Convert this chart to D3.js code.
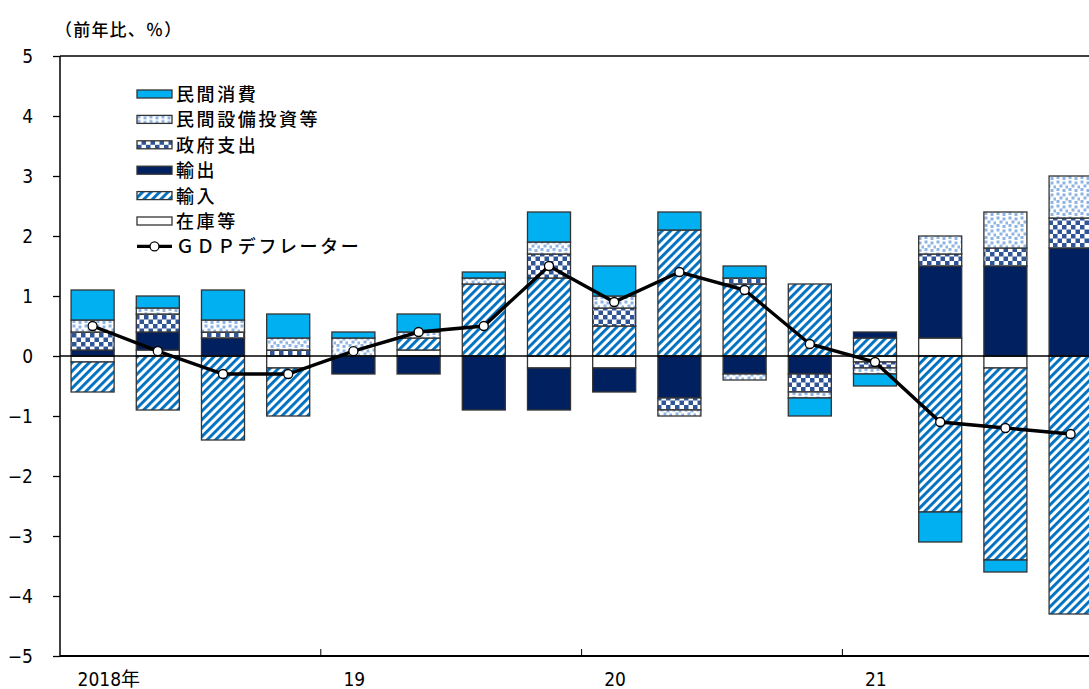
<!DOCTYPE html>
<html>
<head>
<meta charset="utf-8">
<script src="https://cdn.jsdelivr.net/npm/d3@7"></script>
<style>
  body { margin: 0; background: #fff; }
  text { font-family: "Noto Sans CJK JP", sans-serif; fill: #000; }
  .num { font-family: "DejaVu Sans Condensed", "DejaVu Sans", "Noto Sans CJK JP", sans-serif; font-stretch: condensed; }
</style>
</head>
<body>
<div id="chart"></div>
<script>
// quarters 2018Q1 - 2021Q4
const quarters = ['18Q1', '18Q2', '18Q3', '18Q4', '19Q1', '19Q2', '19Q3', '19Q4',
                  '20Q1', '20Q2', '20Q3', '20Q4', '21Q1', '21Q2', '21Q3', '21Q4']
const yearLabels = ['2018年', '19', '20', '21']

// contributions (前年比寄与度、%)
const consumption = [0.5, 0.2, 0.5, 0.4, 0.1, 0.3, 0.1, 0.5, 0.5, 0.3, 0.2, -0.3, -0.2, -0.5, -0.2, 0]
const investment  = [0.2, 0.1, 0.2, 0.2, 0.3, 0.1, 0.1, 0.2, 0.2, -0.1, -0.1, -0.1, -0.1, 0.3, 0.6, 0.7]
const government  = [0.3, 0.3, 0.1, 0.1, 0, 0, 0, 0.4, 0.3, -0.2, 0.1, -0.3, -0.1, 0.2, 0.3, 0.5]
const exports     = [0.1, 0.3, 0.3, 0, -0.3, -0.3, -0.9, -0.7, -0.4, -0.7, -0.3, -0.3, 0.1, 1.2, 1.5, 1.8]
const imports     = [-0.5, -0.9, -1.4, -0.8, 0, 0.2, 1.2, 1.3, 0.5, 2.1, 1.2, 1.2, 0.3, -2.6, -3.2, -4.3]
const inventory   = [-0.1, 0.1, 0, -0.2, 0, 0.1, 0, -0.2, -0.2, 0, 0, 0, -0.1, 0.3, -0.2, 0]
const deflator    = [0.5, 0.08, -0.3, -0.3, 0.08, 0.4, 0.5, 1.5, 0.9, 1.4, 1.1, 0.2, -0.1, -1.1, -1.2, -1.3]

const yTicks = [5, 4, 3, 2, 1, 0, -1, -2, -3, -4, -5]

const series = [
  { key: 'inventory', name: '在庫等', values: inventory, fill: '#ffffff' },
  { key: 'imports', name: '輸入', values: imports, fill: 'url(#pat-stripe)' },
  { key: 'exports', name: '輸出', values: exports, fill: '#002060' },
  { key: 'government', name: '政府支出', values: government, fill: 'url(#pat-check)' },
  { key: 'investment', name: '民間設備投資等', values: investment, fill: 'url(#pat-dots)' },
  { key: 'consumption', name: '民間消費', values: consumption, fill: '#00B0F0' }
]

const width = 1089, height = 689
const margin = { top: 56, left: 60 }
const plotW = 16 * 65.2, plotH = 600

const svg = d3.select('#chart').append('svg')
  .attr('width', width)
  .attr('height', height)

const defs = svg.append('defs')

const stripe = defs.append('pattern').attr('id', 'pat-stripe')
  .attr('patternUnits', 'userSpaceOnUse')
  .attr('width', 6).attr('height', 6)
  .attr('patternTransform', 'rotate(45)')
stripe.append('rect').attr('width', 6).attr('height', 6).attr('fill', '#fff')
stripe.append('rect').attr('width', 2.9).attr('height', 6).attr('fill', '#0070C0')

const check = defs.append('pattern').attr('id', 'pat-check')
  .attr('patternUnits', 'userSpaceOnUse')
  .attr('width', 9).attr('height', 9)
check.append('rect').attr('width', 9).attr('height', 9).attr('fill', '#fff')
check.append('rect').attr('width', 4.5).attr('height', 4.5).attr('fill', '#2F5597')
check.append('rect').attr('x', 4.5).attr('y', 4.5).attr('width', 4.5).attr('height', 4.5).attr('fill', '#2F5597')

const dots = defs.append('pattern').attr('id', 'pat-dots')
  .attr('patternUnits', 'userSpaceOnUse')
  .attr('width', 12).attr('height', 12)
dots.append('rect').attr('width', 12).attr('height', 12).attr('fill', '#fff')
;[[0.5, 0.5], [6.5, 1.5], [3.5, 4.5], [9.5, 5.5], [0.5, 8], [6.5, 9]].forEach(p => {
  dots.append('rect').attr('x', p[0]).attr('y', p[1]).attr('width', 3).attr('height', 3).attr('fill', '#8DB4E2')
})

const xScale = d3.scaleBand()
  .domain(quarters)
  .range([margin.left, margin.left + plotW])
  .paddingInner(0.34)
  .paddingOuter(0.17)

const yScale = d3.scaleLinear()
  .domain([-5, 5])
  .range([margin.top + plotH, margin.top])

// table for d3.stack
const table = quarters.map((q, i) => {
  const row = { q: q }
  series.forEach(s => { row[s.key] = s.values[i] })
  return row
})

const stacked = d3.stack()
  .keys(series.map(s => s.key))
  .offset(d3.stackOffsetDiverging)(table)

const bars = svg.append('g').classed('bars', true)
stacked.forEach((layer, li) => {
  bars.append('g')
    .selectAll('rect')
    .data(layer.filter(d => d[1] - d[0] !== 0)).enter()
    .append('rect')
    .attr('x', d => xScale(d.data.q))
    .attr('width', xScale.bandwidth())
    .attr('y', d => yScale(Math.max(d[0], d[1])))
    .attr('height', d => Math.abs(yScale(d[0]) - yScale(d[1])))
    .attr('fill', series[li].fill)
    .attr('stroke', '#333')
    .attr('stroke-width', 1.3)
})

// frame and axes
const x0 = margin.left, x1 = margin.left + plotW
svg.append('line').attr('x1', x0).attr('x2', x1)
  .attr('y1', yScale(0)).attr('y2', yScale(0))
  .attr('stroke', '#000').attr('stroke-width', 1.3)

const vAxis = d3.axisLeft(yScale)
  .tickValues(yTicks)
  .tickSize(7)
  .tickFormat(d => d < 0 ? '−' + Math.abs(d) : d)
const gy = svg.append('g').classed('v-axis', true)
  .attr('transform', 'translate(' + x0 + ', 0)')
  .call(vAxis)
gy.select('.domain').remove()
gy.selectAll('line').attr('stroke', '#000').attr('stroke-width', 1.3)
gy.selectAll('text')
  .attr('class', 'num')
  .attr('x', -27)
  .attr('dy', '0.36em')
  .attr('font-size', 19)
  .attr('fill', '#000')

svg.append('line').attr('x1', x0).attr('x2', x0)
  .attr('y1', yScale(5)).attr('y2', yScale(-5))
  .attr('stroke', '#000').attr('stroke-width', 1.5)
svg.append('line').attr('x1', x0).attr('x2', x1)
  .attr('y1', yScale(5)).attr('y2', yScale(5))
  .attr('stroke', '#000').attr('stroke-width', 1.3)
svg.append('line').attr('x1', x0).attr('x2', x1)
  .attr('y1', yScale(-5)).attr('y2', yScale(-5))
  .attr('stroke', '#000').attr('stroke-width', 2)

// year ticks and labels
const step = xScale.step()
yearLabels.forEach((label, i) => {
  const q1 = quarters[i * 4]
  const start = xScale(q1) - xScale.paddingInner() * step / 2
  if (i > 0) {
    svg.append('line').attr('x1', start).attr('x2', start)
      .attr('y1', yScale(-5)).attr('y2', yScale(-5) - 7)
      .attr('stroke', '#000').attr('stroke-width', 1)
  }
  svg.append('text').attr('class', 'num')
    .attr('x', xScale(q1) + xScale.bandwidth() / 2 - (i === 0 ? 15 : 10))
    .attr('y', 686)
    .attr('font-size', 19)
    .text(label)
})

// GDP deflator line
const cx = (q) => xScale(q) + xScale.bandwidth() / 2
const line = d3.line()
  .x((d, i) => cx(quarters[i]))
  .y(d => yScale(d))
svg.append('path')
  .datum(deflator)
  .attr('d', line)
  .attr('fill', 'none')
  .attr('stroke', '#000')
  .attr('stroke-width', 3.4)
svg.append('g').selectAll('circle')
  .data(deflator).enter()
  .append('circle')
  .attr('cx', (d, i) => cx(quarters[i]))
  .attr('cy', d => yScale(d))
  .attr('r', 4.5)
  .attr('fill', '#fff')
  .attr('stroke', '#000')
  .attr('stroke-width', 1.3)

// title
svg.append('text')
  .attr('x', 55).attr('y', 36)
  .attr('font-size', 17)
  .attr('font-weight', 500)
  .attr('letter-spacing', 1.2)
  .text('（前年比、％）')

// legend
const legendItems = series.slice().reverse()
const legend = svg.append('g').classed('legend', true)
  .attr('transform', 'translate(137, 94)')
legendItems.forEach((s, i) => {
  const g = legend.append('g').attr('transform', 'translate(0, ' + (i * 25.4) + ')')
  g.append('rect')
    .attr('x', 0).attr('y', -4)
    .attr('width', 35).attr('height', 8)
    .attr('fill', s.fill)
    .attr('stroke', '#333').attr('stroke-width', 1.3)
  g.append('text')
    .attr('x', 39).attr('y', 7)
    .attr('font-size', 18)
    .attr('font-weight', 500)
    .attr('letter-spacing', 2.6)
    .text(s.name)
})
const lg = legend.append('g').attr('transform', 'translate(0, ' + (6 * 25.4) + ')')
lg.append('line').attr('x1', 0).attr('x2', 35)
  .attr('stroke', '#000').attr('stroke-width', 3.4)
lg.append('circle').attr('cx', 17.5).attr('cy', 0).attr('r', 4.5)
  .attr('fill', '#fff').attr('stroke', '#000').attr('stroke-width', 1.3)
lg.append('text')
  .attr('x', 39).attr('y', 7)
  .attr('font-size', 18)
  .attr('font-weight', 500)
  .attr('letter-spacing', 2.6)
  .text('ＧＤＰデフレーター')
</script>
</body>
</html>
